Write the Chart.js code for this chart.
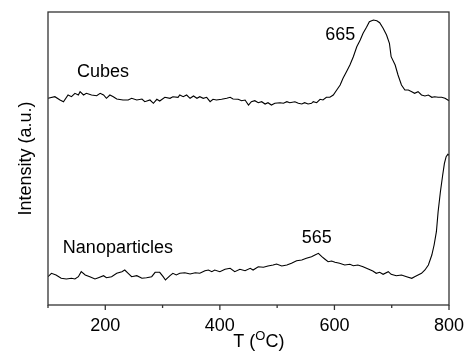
<!DOCTYPE html>
<html><head><meta charset="utf-8">
<script src="https://cdn.jsdelivr.net/npm/chart.js@4.4.1/dist/chart.umd.min.js"></script>
<style>html,body{margin:0;padding:0;background:#fff}#wrap{width:465px;height:358px}</style>
</head><body><div id="wrap"><canvas id="c" width="465" height="358"></canvas></div>
<script>
// ---- data (T in °C, intensity in arbitrary units) ----
const cubesT = [100,112,121,127,135,141,147,153,156,162,167,176,185,191,197,202,208,214,220,231,240,246,255,264,269,278,284,290,295,304,313,318,327,
  330,336,342,348,354,360,365,371,377,383,388,394,403,412,418,423,432,438,444,450,455,461,467,473,479,484,490,496,505,511,517,522,531,537,543,548,554,560,
  563,569,575,580,586,592,598,604,610,615,621,627,633,639,645,650,656,661,668,674,679,685,691,696,699,706,711,717,723,729,735,740,746,752,758,764,770,775,781,787,793,800];
const cubesI = [206.7,208.3,205,203.3,210,208.3,211.7,210,213.3,210,211.7,210,209.3,211.7,210,206.7,210,208.3,206,205,205,206.7,205,206,203.3,205,201.7,205.7,204,207.7,206.7,208.3,207.7,
  210,208.3,210,206.7,209,206.7,208.3,206.7,207.7,203.3,205.7,205,205.7,206.7,207.7,206,205.7,204.3,205,200,203.3,204.3,202.3,203.3,201,202.3,200,201.7,202.3,201.7,203.3,202.3,203.3,201.7,201,202.3,201,201.7,
  203.3,202.3,205.7,205,207.7,207.7,210,215,220,226.7,233.3,240,248.3,258.3,265,271.7,277.7,283.3,285,284.3,282.3,276.7,270,261.7,248.3,240,230,220,215,215,213.3,211.7,213.3,210,209,210,207.7,208.3,207.7,207.7,206.7,204.3];

const nanoT = [100,106,114,123,132,141,147,153,158,165,173,182,188,197,202,211,220,229,234,240,246,255,264,272,281,287,295,301,305,313,318,324,330,
  339,348,357,365,374,380,386,391,400,409,418,426,435,444,453,458,467,476,484,493,499,508,517,525,534,543,551,560,566,572,
  578,583,589,595,601,609,618,627,633,641,650,659,667,673,679,685,694,699,708,717,726,735,740,746,752,758,764,770,774,778,781,785,789,792,795,798,800];
const nanoI = [28.3,31.7,30,26.7,26,26.7,26,28.3,33.3,30,28.3,26,27.3,29.3,27.3,28.3,31.7,33.3,35,31.7,28.3,29.3,26.7,27.3,28.3,32.7,32.7,28.3,25,29.3,31.7,30,31.7,
  32.3,31,32.3,31.7,34.3,35,33.3,35,33.3,35.7,36.7,33.3,35.7,34.3,36.7,35,38.3,37.7,39,40,41,39,40,41.7,44.3,45,46.7,48.3,50,51.7,
  48.3,46,43.3,44,42.7,41.7,40,40.7,39.3,40,38.3,36,34,31.7,32.7,30.7,33.3,30.7,29.3,30,28.3,26.7,28.3,30,31.7,35,40,50,60,73.3,93.3,113.3,130,141.7,148.3,150.7,150];

const xTickValues = [100,200,300,400,500,600,700,800];
const xTickLabels = ['', '200', '', '400', '', '600', '', '800'];
const seriesNames = ['Cubes', 'Nanoparticles'];
const peakNames = ['665', '565'];

// ---- text placement (data coordinates) ----
const notes = [
  {text: seriesNames[0], t: 196, v: 233},
  {text: peakNames[0], t: 610, v: 270},
  {text: seriesNames[1], t: 222, v: 56.5},
  {text: peakNames[1], t: 569, v: 67}
];

const FAM = '"Liberation Sans", Arial, sans-serif';

const decor = {
  id: 'decor',
  afterDraw(chart) {
    const {ctx, chartArea: a, scales: {x, y}} = chart;
    ctx.save();
    ctx.strokeStyle = '#333';
    ctx.lineWidth = 1.3;
    ctx.strokeRect(a.left, a.top, a.right - a.left, a.bottom - a.top);
    x.ticks.forEach(t => {
      const px = x.getPixelForValue(t.value);
      const len = (t.value % 200 === 0) ? 5 : 3;
      ctx.beginPath();
      ctx.moveTo(px, a.bottom);
      ctx.lineTo(px, a.bottom + len);
      ctx.stroke();
    });
    ctx.fillStyle = '#000';
    ctx.font = '18px ' + FAM;
    ctx.textAlign = 'center';
    ctx.textBaseline = 'middle';
    notes.forEach(n => ctx.fillText(n.text, x.getPixelForValue(n.t), y.getPixelForValue(n.v)));
    // x axis title with superscript
    const parts = [['T (', '18px ' + FAM, 0], ['O', '13px ' + FAM, -7], ['C)', '18px ' + FAM, 0]];
    let total = 0;
    parts.forEach(p => { ctx.font = p[1]; p.push(ctx.measureText(p[0]).width); total += p[3]; });
    let sx = (a.left + a.right) / 2 + 10.4 - total / 2;
    const base = a.bottom + 42;
    ctx.textAlign = 'left';
    ctx.textBaseline = 'alphabetic';
    parts.forEach(p => { ctx.font = p[1]; ctx.fillText(p[0], sx, base + p[2]); sx += p[3]; });
    ctx.restore();
  }
};

function zeroPad(s) { s.paddingLeft = 0; s.paddingRight = 0; s.paddingTop = 0; s.paddingBottom = 0; }

new Chart(document.getElementById('c'), {
  type: 'line',
  data: {
    datasets: [
      {label: seriesNames[0], data: cubesT.map((t, i) => ({x: t, y: cubesI[i]})), borderColor: '#000', borderWidth: 1.1, pointRadius: 0, tension: 0, fill: false},
      {label: seriesNames[1], data: nanoT.map((t, i) => ({x: t, y: nanoI[i]})), borderColor: '#000', borderWidth: 1.1, pointRadius: 0, tension: 0, fill: false}
    ]
  },
  options: {
    responsive: false,
    devicePixelRatio: 1,
    animation: false,
    layout: {padding: {top: 12, right: 16, left: 0, bottom: 0}},
    plugins: {legend: {display: false}, tooltip: {enabled: false}},
    scales: {
      x: {
        type: 'linear', min: 100, max: 800,
        afterFit(s) { s.height = 53; zeroPad(s); },
        afterBuildTicks(s) { s.ticks = xTickValues.map(v => ({value: v})); },
        ticks: {
          autoSkip: false, maxRotation: 0, padding: 2, color: '#000',
          font: {family: FAM, size: 18},
          callback: (v) => { const i = xTickValues.indexOf(v); return i >= 0 ? xTickLabels[i] : ''; }
        },
        grid: {display: false},
        border: {display: false}
      },
      y: {
        type: 'linear', min: 0, max: 293,
        afterFit(s) { s.width = 48; zeroPad(s); },
        ticks: {display: false},
        grid: {display: false},
        border: {display: false},
        title: {display: true, text: 'Intensity (a.u.)', color: '#000', font: {family: FAM, size: 18}, padding: {top: 15, bottom: 0}}
      }
    }
  },
  plugins: [decor]
});
</script>
</body></html>
